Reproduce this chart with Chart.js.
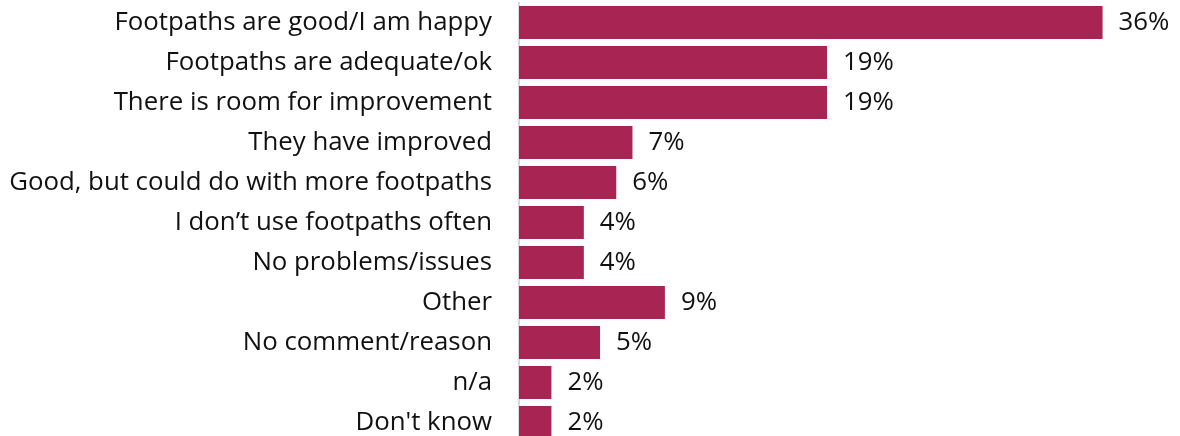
<!DOCTYPE html>
<html>
<head>
<meta charset="utf-8">
<script src="https://cdn.jsdelivr.net/npm/chart.js@4/dist/chart.umd.min.js"></script>
<style>
  html, body { margin: 0; padding: 0; background: #ffffff; overflow: hidden; }
  #wrap { width: 1180px; height: 444px; }
</style>
</head>
<body>
<div id="wrap"><canvas id="chart" width="1180" height="444"></canvas></div>
<script>
const categories = [
  "Footpaths are good/I am happy",
  "Footpaths are adequate/ok",
  "There is room for improvement",
  "They have improved",
  "Good, but could do with more footpaths",
  "I don\u2019t use footpaths often",
  "No problems/issues",
  "Other",
  "No comment/reason",
  "n/a",
  "Don't know"
];
const shares = [36, 19, 19, 7, 6, 4, 4, 9, 5, 2, 2];
const valueLabels = ["36%", "19%", "19%", "7%", "6%", "4%", "4%", "9%", "5%", "2%", "2%"];

const FONT = "'Open Sans', 'Noto Sans', sans-serif";
const FONT_SIZE = 25.8;

// writes the percentage just past the end of each bar
const barValueLabels = {
  id: "barValueLabels",
  afterDatasetsDraw(chart) {
    const ctx = chart.ctx;
    const meta = chart.getDatasetMeta(0);
    ctx.save();
    ctx.font = FONT_SIZE + "px " + FONT;
    ctx.fillStyle = "#111111";
    ctx.textAlign = "left";
    ctx.textBaseline = "middle";
    meta.data.forEach((bar, i) => {
      ctx.fillText(valueLabels[i], bar.x + 16, bar.y);
    });
    ctx.restore();
  }
};

new Chart(document.getElementById("chart"), {
  type: "bar",
  data: {
    labels: categories,
    datasets: [{
      data: shares,
      backgroundColor: "#a72453",
      borderWidth: 0,
      barPercentage: 0.825,
      categoryPercentage: 1.0
    }]
  },
  options: {
    indexAxis: "y",
    responsive: false,
    animation: false,
    layout: { padding: { top: 2.5, bottom: 1.5, left: 0, right: 12.6 } },
    plugins: {
      legend: { display: false },
      tooltip: { enabled: false }
    },
    scales: {
      x: {
        min: 0,
        max: 40,
        display: false
      },
      y: {
        afterFit(scale) {
          scale.width = 519;
          scale.paddingTop = 0;
          scale.paddingBottom = 0;
        },
        grid: { display: false, drawTicks: false },
        border: { display: true, color: "#d9d9d9", width: 2 },
        ticks: {
          padding: 27,
          color: "#111111",
          font: { family: FONT, size: FONT_SIZE }
        }
      }
    }
  },
  plugins: [barValueLabels]
});
</script>
</body>
</html>
